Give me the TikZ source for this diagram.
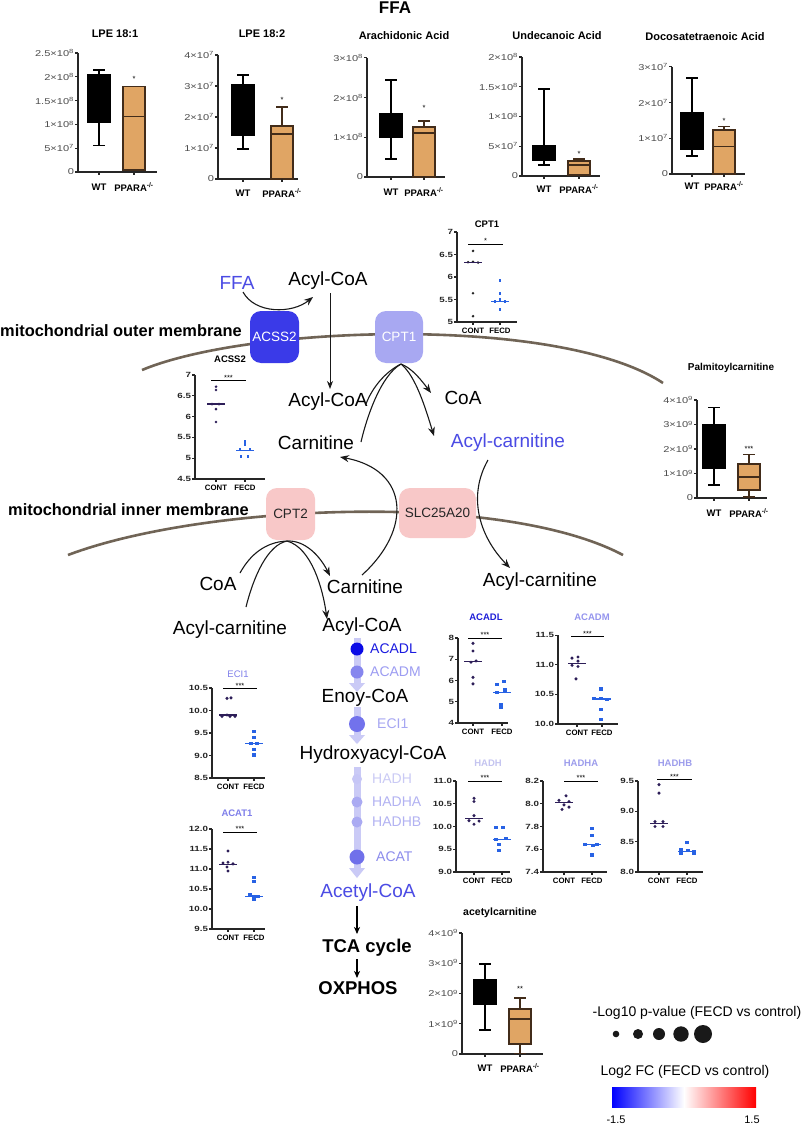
\documentclass[tikz,border=0pt]{standalone}
\usepackage{fontspec}
\setmainfont{Liberation Sans}
\newfontfamily\tickfont[FakeStretch=1.3]{Liberation Sans}
\usetikzlibrary{arrows.meta}
\definecolor{contc}{RGB}{45,30,88}
\definecolor{fecdc}{RGB}{40,98,228}
\definecolor{kofill}{RGB}{224,165,100}
\definecolor{koedge}{RGB}{66,44,26}
\definecolor{membc}{RGB}{112,100,86}
\definecolor{ffab}{RGB}{75,75,228}
\definecolor{acssc}{RGB}{58,58,232}
\definecolor{cptc}{RGB}{168,168,242}
\definecolor{pinkc}{RGB}{248,200,200}
\definecolor{bandc}{RGB}{202,202,246}
\newcommand\sci[2]{#1×10\textsuperscript{#2}}
\newcommand\ko{PPARA\textsuperscript{-/-}}
\newcommand\vscope[4]{\begin{scope}[shift={(#1,#2)}]\begin{scope}[y=#3pt,shift={(0,-#4)}]}
\newcommand\vscopeend{\end{scope}\end{scope}}
\newcommand\yaxis[5]{%
  \draw[axl] (0,#2) -- (0,#1) -- (#3,#1);
  \foreach \tval/\tlab in {#4}{\draw[axl] (0,\tval) -- ++(-3pt,0pt) node[left,#5]{\tlab};}}
\newcommand\xcat[5]{%
  \draw[axl] (#2,#1) -- ++(0pt,-3pt);
  \node[#4,yshift=#5] at (#2,#1) {#3};}
\newcommand\wtbox[5]{%
  \draw[bxl] (#1,#2) -- (#1,#5);
  \draw[bxl] ({#1-6},#2) -- ({#1+6},#2);
  \draw[bxl] ({#1-6},#5) -- ({#1+6},#5);
  \filldraw[bxl,fill=black] ({#1-11},#3) rectangle ({#1+11},#4);}
\newcommand\kobox[6]{%
  \draw[kol] (#1,#2) -- (#1,#6);
  \draw[kol] ({#1-6},#2) -- ({#1+6},#2);
  \draw[kol] ({#1-6},#6) -- ({#1+6},#6);
  \filldraw[kol,fill=kofill] ({#1-11},#3) rectangle ({#1+11},#5);
  \draw[kol] ({#1-11},#4) -- ({#1+11},#4);}
\newcommand\contdots[3]{%
  \foreach \ddx/\dval in {#2}{\node[cdot] at ({#1+(\ddx)},\dval) {};}
  \draw[contc,line width=1.3pt] ({#1-9},#3) -- ({#1+9},#3);}
\newcommand\fecddots[3]{%
  \foreach \ddx/\dval in {#2}{\node[fdot] at ({#1+(\ddx)},\dval) {};}
  \draw[fecdc,line width=1.3pt] ({#1-9},#3) -- ({#1+9},#3);}
\newcommand\sigbar[4]{%
  \draw[line width=1pt] (#1,#3) -- (#2,#3);
  \node[sigstar,above] at ({(#1+#2)/2},#3) {#4};}
\tikzset{
  axl/.style={line width=1.1pt,black!85},
  bxl/.style={line width=1.3pt,black},
  kol/.style={line width=1.2pt,koedge},
  tk/.style={font=\tickfont\fontsize{8.5}{9}\selectfont,text=black!70,inner sep=0.5pt},
  dtk/.style={font=\tickfont\bfseries\fontsize{7.5}{8}\selectfont,text=black!85,inner sep=0.5pt},
  cat/.style={font=\bfseries\fontsize{9.5}{10}\selectfont,inner sep=0pt},
  dcat/.style={font=\bfseries\fontsize{7.8}{8}\selectfont,inner sep=0pt},
  btitle/.style={font=\bfseries\fontsize{11}{12}\selectfont,inner sep=0pt},
  dtitle/.style={font=\bfseries\fontsize{9.5}{10}\selectfont,inner sep=0pt},
  sigstar/.style={font=\fontsize{7.5}{7.5}\selectfont,inner sep=0.5pt},
  cdot/.style={circle,fill=contc,inner sep=0pt,minimum size=3.4pt},
  fdot/.style={rectangle,fill=fecdc,inner sep=0pt,minimum size=3.2pt},
  pw/.style={font=\fontsize{19}{22}\selectfont,inner sep=0pt},
  memb/.style={line width=2.6pt,membc},
  mbox/.style={rounded corners=11pt,minimum width=49pt,minimum height=52pt,inner sep=0pt,font=\fontsize{13.5}{14}\selectfont},
  thinln/.style={line width=1.1pt,black!90},
  carr/.style={line width=1.1pt,black!90,-{Stealth[length=9pt,width=7pt,inset=3pt]}},
  blkarr/.style={line width=1.6pt,black,-{Stealth[length=7pt,width=6pt,inset=2pt]}},
  enz/.style={font=\fontsize{14}{16}\selectfont,inner sep=0pt,anchor=west},
  bandtri/.style={fill=bandc},
}
\begin{document}
\begin{tikzpicture}[x=1pt,y=-1pt]
\useasboundingbox (0,0) rectangle (800,1126);
\fill[white] (0,0) rectangle (800,1126);

%================ top row ================
\node[font=\bfseries\fontsize{17}{18}\selectfont,inner sep=0pt] (ffatitle) at (395,8) {FFA};

\node[btitle] (t1) at (115,34) {LPE 18:1};
\vscope{78}{172}{47.6}{0}
 \yaxis{0}{2.5}{79}{0/0,0.5/\sci{5}{7},1/\sci{1}{8},1.5/\sci{1.5}{8},2/\sci{2}{8},2.5/\sci{2.5}{8}}{tk}
 \wtbox{21}{0.55}{1.05}{2.04}{2.14}
 \kobox{56}{0.04}{0.04}{1.16}{1.79}{1.79}
 \node[sigstar] at (56,1.95) {*};
 \xcat{0}{21}{WT}{cat}{-15pt}\xcat{0}{56}{\ko}{cat}{-15pt}
\vscopeend

\node[btitle] (t2) at (262,34) {LPE 18:2};
\vscope{218}{179}{31}{0}
 \yaxis{0}{4}{80}{0/0,1/\sci{1}{7},2/\sci{2}{7},3/\sci{3}{7},4/\sci{4}{7}}{tk}
 \wtbox{25}{0.97}{1.42}{3.03}{3.35}
 \kobox{64}{0}{0}{1.45}{1.71}{2.32}
 \node[sigstar] at (64,2.55) {*};
 \xcat{0}{25}{WT}{cat}{-14pt}\xcat{0}{64}{\ko}{cat}{-14pt}
\vscopeend

\node[btitle] (t3) at (404,36) {Arachidonic Acid};
\vscope{367}{177}{39.7}{0}
 \yaxis{0}{3}{78}{0/0,1/\sci{1}{8},2/\sci{2}{8},3/\sci{3}{8}}{tk}
 \wtbox{24}{0.45}{1.01}{1.59}{2.44}
 \kobox{57}{0}{0}{1.11}{1.26}{1.41}
 \node[sigstar] at (57,1.74) {*};
 \xcat{0}{24}{WT}{cat}{-15pt}\xcat{0}{57}{\ko}{cat}{-15pt}
\vscopeend

\node[btitle] (t4) at (557,36) {Undecanoic Acid};
\vscope{522}{176}{59.5}{0}
 \yaxis{0}{2}{78}{0/0,0.5/\sci{5}{7},1/\sci{1}{8},1.5/\sci{1.5}{8},2/\sci{2}{8}}{tk}
 \wtbox{22}{0.185}{0.27}{0.504}{1.46}
 \kobox{57}{0.017}{0.017}{0.185}{0.252}{0.286}
 \node[sigstar] at (57,0.37) {*};
 \xcat{0}{22}{WT}{cat}{-13pt}\xcat{0}{57}{\ko}{cat}{-13pt}
\vscopeend

\node[btitle] (t5) at (705,37) {Docosatetraenoic Acid};
\vscope{672}{174}{35.7}{0}
 \yaxis{0}{3}{73}{0/0,1/\sci{1}{7},2/\sci{2}{7},3/\sci{3}{7}}{tk}
 \wtbox{20}{0.5}{0.7}{1.71}{2.69}
 \kobox{52}{0}{0}{0.76}{1.23}{1.32}
 \node[sigstar] at (52,1.48) {*};
 \xcat{0}{20}{WT}{cat}{-12pt}\xcat{0}{52}{\ko}{cat}{-12pt}
\vscopeend

%================ membranes ================
\draw[memb] (142,370) .. controls (250,325) and (560,315) .. (663,383);
\draw[memb] (68,555) .. controls (200,505) and (500,490) .. (623,555);
\node[font=\bfseries\fontsize{16.4}{18}\selectfont,anchor=west,inner sep=0pt] (omem) at (0,331) {mitochondrial outer membrane};
\node[font=\bfseries\fontsize{16.4}{18}\selectfont,anchor=west,inner sep=0pt] (imem) at (8,510) {mitochondrial inner membrane};

%================ pathway texts ================
\node[pw,text=ffab] (ffa) at (237,283) {FFA};
\node[pw] (acoa1) at (328,281) {Acyl-CoA};
\node[pw] (acoa2) at (328,402) {Acyl-CoA};
\node[pw] (carn1) at (316,443) {Carnitine};
\node[pw] (coa1) at (463,398) {CoA};
\node[pw,text=ffab] (acar1) at (508,443) {Acyl-carnitine};
\node[pw] (coa2) at (218,584) {CoA};
\node[pw] (acar2) at (230,630) {Acyl-carnitine};
\node[pw] (carn2) at (365,587) {Carnitine};
\node[pw] (acar3) at (540,582) {Acyl-carnitine};
\node[pw] (acoa3) at (362,627) {Acyl-CoA};
\node[pw] (enoy) at (365,698) {Enoy-CoA};
\node[pw] (hydr) at (373,755) {Hydroxyacyl-CoA};
\node[pw,text=ffab] (acet) at (368,893) {Acetyl-CoA};
\node[font=\bfseries\fontsize{18.5}{20}\selectfont,inner sep=0pt] (tca) at (367,948) {TCA cycle};
\node[font=\bfseries\fontsize{18.5}{20}\selectfont,inner sep=0pt] (oxphos) at (358,988) {OXPHOS};

%================ connectors ================
\coordinate (ffaE) at (243,292);
\coordinate (acoa1W) at (313,297);
\draw[carr] (ffaE) .. controls (255,314) and (292,314) .. (acoa1W);
\coordinate (acoa1S) at (330,293);
\coordinate (acoa2N) at (330,389);
\draw[line width=1pt,black!90,-{Stealth[length=8pt,width=6pt,inset=2.5pt]}] (acoa1S) -- (acoa2N);

\coordinate (cpt1b) at (401,364);
\coordinate (acoa2E) at (366,404);
\coordinate (carn1E) at (361,442);
\coordinate (coa1W) at (431,393);
\coordinate (acar1N) at (434,436);
\draw[thinln] (cpt1b) .. controls (385,372) and (372,388) .. (acoa2E);
\draw[thinln] (cpt1b) .. controls (380,376) and (366,420) .. (carn1E);
\draw[carr] (cpt1b) .. controls (412,368) and (422,381) .. (coa1W);
\draw[carr] (cpt1b) .. controls (416,376) and (426,410) .. (acar1N);

\coordinate (carn2N) at (362,575);
\coordinate (carn1SE) at (340,457);
\draw[carr] (carn2N) .. controls (412,530) and (410,470) .. (carn1SE);
\coordinate (acar1S) at (488,460);
\coordinate (acar3N) at (510,568);
\draw[carr] (acar1S) .. controls (468,495) and (478,535) .. (acar3N);

\coordinate (cpt2b) at (287,541);
\coordinate (coa2E) at (240,573);
\coordinate (acar2N) at (246,607);
\coordinate (carn2W) at (330,576);
\coordinate (acoa3N) at (327,619);
\draw[thinln] (cpt2b) .. controls (265,542) and (250,555) .. (coa2E);
\draw[thinln] (acar2N) .. controls (254,575) and (268,545) .. (cpt2b);
\draw[carr] (cpt2b) .. controls (305,540) and (320,556) .. (carn2W);
\draw[carr] (cpt2b) .. controls (312,548) and (323,590) .. (acoa3N);

%================ membrane proteins ================
\node[mbox,fill=acssc,text=white] (acss2) at (274.5,337) {ACSS2};
\node[mbox,fill=cptc,text=white,minimum width=48pt] (cpt1) at (399,337) {CPT1};
\node[mbox,fill=pinkc,text=black!85] (cpt2) at (290.5,514) {CPT2};
\node[mbox,fill=pinkc,text=black!85,minimum width=77pt,minimum height=50pt] (slc) at (437.5,513) {SLC25A20};

%================ beta oxidation band ================
\fill[bandc] (353.5,638) rectangle (360.5,684);
\fill[bandtri] (349,683) -- (365,683) -- (357,692) -- cycle;
\fill[bandc] (353.5,707) rectangle (360.5,736);
\fill[bandtri] (349,735) -- (365,735) -- (357,744) -- cycle;
\fill[bandc] (353.5,767) rectangle (360.5,869);
\fill[bandtri] (349,868) -- (365,868) -- (357,878) -- cycle;
\node[circle,inner sep=0pt,minimum size=13pt,fill={rgb,255:red,10;green,10;blue,230}] (dacadl) at (357,649) {};
\node[circle,inner sep=0pt,minimum size=13pt,fill={rgb,255:red,134;green,134;blue,238}] (dacadm) at (357,672) {};
\node[circle,inner sep=0pt,minimum size=16pt,fill={rgb,255:red,114;green,114;blue,236}] (deci) at (357,724) {};
\node[circle,inner sep=0pt,minimum size=10pt,fill={rgb,255:red,198;green,198;blue,246}] (dhadh) at (357,779) {};
\node[circle,inner sep=0pt,minimum size=11pt,fill={rgb,255:red,170;green,170;blue,242}] (dhadha) at (357,802) {};
\node[circle,inner sep=0pt,minimum size=11pt,fill={rgb,255:red,170;green,170;blue,242}] (dhadhb) at (357,822) {};
\node[circle,inner sep=0pt,minimum size=15pt,fill={rgb,255:red,112;green,112;blue,234}] (dacat) at (357,857) {};
\node[enz,text={rgb,255:red,27;green,27;blue,224}] (lacadl) at (370,649) {ACADL};
\node[enz,text={rgb,255:red,156;green,156;blue,242}] (lacadm) at (370,672) {ACADM};
\node[enz,text={rgb,255:red,166;green,166;blue,242}] (leci) at (377,724) {ECI1};
\node[enz,text={rgb,255:red,202;green,202;blue,245}] (lhadh) at (372,779) {HADH};
\node[enz,text={rgb,255:red,178;green,178;blue,242}] (lhadha) at (372,802) {HADHA};
\node[enz,text={rgb,255:red,178;green,178;blue,242}] (lhadhb) at (372,822) {HADHB};
\node[enz,text={rgb,255:red,140;green,140;blue,236}] (lacat) at (376,857) {ACAT};

\coordinate (acetS) at (357,906);
\coordinate (tcaN) at (357,934);
\coordinate (tcaS) at (357,959);
\coordinate (oxN) at (357,978);
\draw[blkarr] (acetS) -- (tcaN);
\draw[blkarr] (tcaS) -- (oxN);

%================ dot plots ================
\node[dtitle] (tcpt1) at (487,224) {CPT1};
\vscope{457}{322}{45}{5}
 \yaxis{5}{7}{60}{5/5,5.5/5.5,6/6,6.5/6.5,7/7}{dtk}
 \begin{scope}[cdot/.append style={minimum size=2.8pt,fill=black!85},fdot/.append style={minimum size=2.8pt}]
 \contdots{16}{0/6.58,-5/6.33,0/6.34,5/6.32,0/5.64,0/5.13}{6.32}
 \fecddots{43}{0/5.92,0/5.64,-5/5.46,0/5.5,5/5.45,0/5.28}{5.46}
 \end{scope}
 \sigbar{11}{46}{6.73}{*}
 \xcat{5}{16}{CONT}{dcat}{-9pt}\xcat{5}{43}{FECD}{dcat}{-9pt}
\vscopeend

\node[dtitle] (tacss2) at (230,359) {ACSS2};
\vscope{195}{479}{41.6}{4.5}
 \yaxis{4.5}{7}{70}{4.5/4.5,5/5,5.5/5.5,6/6,6.5/6.5,7/7}{dtk}
 \begin{scope}[cdot/.append style={minimum size=2.8pt},fdot/.append style={minimum size=2.8pt}]
 \contdots{21}{0/6.72,0/6.64,-4/6.3,3/6.3,0/6.18,0/5.87}{6.3}
 \fecddots{50}{0/5.4,0/5.32,-5/5.21,5/5.21,-4/5.05,3/5.05}{5.19}
 \end{scope}
 \sigbar{16}{51}{6.86}{***}
 \xcat{4.5}{21}{CONT}{dcat}{-9pt}\xcat{4.5}{50}{FECD}{dcat}{-9pt}
\vscopeend

\node[dtitle,font=\fontsize{9.5}{10}\selectfont,text={rgb,255:red,127;green,127;blue,234}] (teci) at (238,674) {ECI1};
\vscope{212}{778}{45}{8.5}
 \yaxis{8.5}{10.5}{53}{8.5/8.5,9.0/9.0,9.5/9.5,10.0/10.0,10.5/10.5}{dtk}
 \contdots{16}{-1/10.27,3/10.28,-6/9.87,-1/9.9,2/9.87,7/9.87}{9.9}
 \fecddots{42}{0/9.54,0/9.4,-3/9.26,3/9.26,0/9.14,0/9.01}{9.27}
 \sigbar{11}{45}{10.48}{***}
 \xcat{8.5}{16}{CONT}{dcat}{-9pt}\xcat{8.5}{42}{FECD}{dcat}{-9pt}
\vscopeend

\node[dtitle,text={rgb,255:red,127;green,127;blue,234}] (tacat) at (237,813) {ACAT1};
\vscope{212}{929}{40}{9.5}
 \yaxis{9.5}{12}{53}{9.5/9.5,10.0/10.0,10.5/10.5,11.0/11.0,11.5/11.5,12.0/12.0}{dtk}
 \contdots{16}{0/11.45,-5/11.15,0/11.17,5/11.13,-1/11.05,0/10.95}{11.12}
 \fecddots{42}{0/10.78,0/10.68,-4/10.35,0/10.3,4/10.32,0/10.24}{10.32}
 \sigbar{11}{45}{11.92}{***}
 \xcat{9.5}{16}{CONT}{dcat}{-9pt}\xcat{9.5}{42}{FECD}{dcat}{-9pt}
\vscopeend

\node[dtitle,text={rgb,255:red,30;green,30;blue,216}] (tacadl) at (486,617) {ACADL};
\vscope{458}{723}{21.25}{4}
 \yaxis{4}{8}{50}{4/4,5/5,6/6,7/7,8/8}{dtk}
 \contdots{15}{0/7.75,0/7.39,3/6.92,-2/6.86,0/6.15,0/5.84}{6.88}
 \fecddots{44}{-5/5.82,2/5.94,-5/5.45,3/5.55,-1/4.85,-1/4.72}{5.45}
 \sigbar{10}{44}{8}{***}
 \xcat{4}{15}{CONT}{dcat}{-9pt}\xcat{4}{44}{FECD}{dcat}{-9pt}
\vscopeend

\node[dtitle,text={rgb,255:red,148;green,148;blue,238}] (tacadm) at (592,617) {ACADM};
\vscope{558}{724}{59.3}{10}
 \yaxis{10}{11.5}{60}{10/10.0,10.5/10.5,11/11.0,11.5/11.5}{dtk}
 \contdots{19}{-5/11.11,1/11.13,1/11.06,-5/10.99,1/10.97,-1/10.76}{11.02}
 \fecddots{44}{-1/10.59,-8/10.43,-1/10.43,5/10.42,-1/10.25,-1/10.08}{10.42}
 \sigbar{13}{46}{11.47}{***}
 \xcat{10}{19}{CONT}{dcat}{-9pt}\xcat{10}{44}{FECD}{dcat}{-9pt}
\vscopeend

\node[dtitle,text={rgb,255:red,196;green,196;blue,240}] (thadh) at (488,763) {HADH};
\vscope{456}{872}{45.5}{9}
 \yaxis{9}{11}{54}{9/9.0,9.5/9.5,10/10.0,10.5/10.5,11/11.0}{dtk}
 \contdots{18}{0/10.62,0/10.55,0/10.24,-5/10.13,5/10.12,0/10.05}{10.17}
 \fecddots{46}{-6/9.98,1/9.98,-6/9.72,4/9.73,-3/9.6,-3/9.47}{9.72}
 \sigbar{12}{46}{11}{***}
 \xcat{9}{18}{CONT}{dcat}{-9pt}\xcat{9}{46}{FECD}{dcat}{-9pt}
\vscopeend

\node[dtitle,text={rgb,255:red,156;green,156;blue,236}] (thadha) at (581,763) {HADHA};
\vscope{543}{872}{113.75}{7.4}
 \yaxis{7.4}{8.2}{64}{7.4/7.4,7.6/7.6,7.8/7.8,8.0/8.0,8.2/8.2}{dtk}
 \contdots{21}{2/8.07,-5/8.03,5/8.02,0/7.99,5/7.97,-2/7.95}{8.01}
 \fecddots{49}{0/7.78,0/7.72,-7/7.645,5/7.64,1/7.63,0/7.55}{7.64}
 \sigbar{21}{55}{8.2}{***}
 \xcat{7.4}{21}{CONT}{dcat}{-9pt}\xcat{7.4}{49}{FECD}{dcat}{-9pt}
\vscopeend

\node[dtitle,text={rgb,255:red,156;green,156;blue,236}] (thadhb) at (675,763) {HADHB};
\vscope{638}{872}{60.7}{8}
 \yaxis{8}{9.5}{65}{8/8.0,8.5/8.5,9/9.0,9.5/9.5}{dtk}
 \contdots{21}{0/9.44,0/9.3,-4/8.83,4/8.83,-4/8.75,4/8.75}{8.8}
 \fecddots{49}{0/8.49,-6/8.37,1/8.35,7/8.34,-6/8.3,7/8.3}{8.34}
 \sigbar{19}{54}{9.52}{***}
 \xcat{8}{21}{CONT}{dcat}{-9pt}\xcat{8}{49}{FECD}{dcat}{-9pt}
\vscopeend

%================ carnitine box plots ================
\node[btitle,font=\bfseries\fontsize{10}{11}\selectfont] (tpalm) at (731,368) {Palmitoylcarnitine};
\vscope{697}{498}{24.5}{0}
 \yaxis{0}{4}{70}{0/0,1/\sci{1}{9},2/\sci{2}{9},3/\sci{3}{9},4/\sci{4}{9}}{tk}
 \wtbox{17}{0.53}{1.22}{2.98}{3.7}
 \kobox{52}{0.04}{0.33}{0.86}{1.39}{1.76}
 \node[sigstar] at (52,2.0) {***};
 \xcat{0}{17}{WT}{cat}{-15pt}\xcat{0}{52}{\ko}{cat}{-15pt}
\vscopeend

\node[btitle,font=\bfseries\fontsize{10.5}{11}\selectfont] (tacetc) at (500,913) {acetylcarnitine};
\vscope{462}{1054}{30.25}{0}
 \yaxis{0}{4}{81}{0/0,1/\sci{1}{9},2/\sci{2}{9},3/\sci{3}{9},4/\sci{4}{9}}{tk}
 \wtbox{23}{0.79}{1.65}{2.45}{2.98}
 \kobox{58}{0.03}{0.33}{1.16}{1.49}{1.85}
 \node[sigstar] at (58,2.15) {**};
 \xcat{0}{23}{WT}{cat}{-14pt}\xcat{0}{58}{\ko}{cat}{-14pt}
\vscopeend

%================ legend ================
\node[font=\fontsize{14}{16}\selectfont,inner sep=0pt] (lg1) at (697,1013) {-Log10 p-value (FECD vs control)};
\fill[black!90] (616,1034) circle (3.3pt);
\fill[black!90] (638,1034) circle (5pt);
\fill[black!90] (659,1034) circle (6pt);
\fill[black!90] (681,1034) circle (7.7pt);
\fill[black!90] (703,1034) circle (9pt);
\node[font=\fontsize{14}{16}\selectfont,inner sep=0pt] (lg2) at (685,1072) {Log2 FC (FECD vs control)};
\shade[left color=blue,right color=red,middle color=white] (612,1087) rectangle (756,1107);
\node[font=\fontsize{11}{12}\selectfont,inner sep=0pt] (lgmin) at (616,1120) {-1.5};
\node[font=\fontsize{11}{12}\selectfont,inner sep=0pt] (lgmax) at (752,1120) {1.5};
\end{tikzpicture}
\end{document}
